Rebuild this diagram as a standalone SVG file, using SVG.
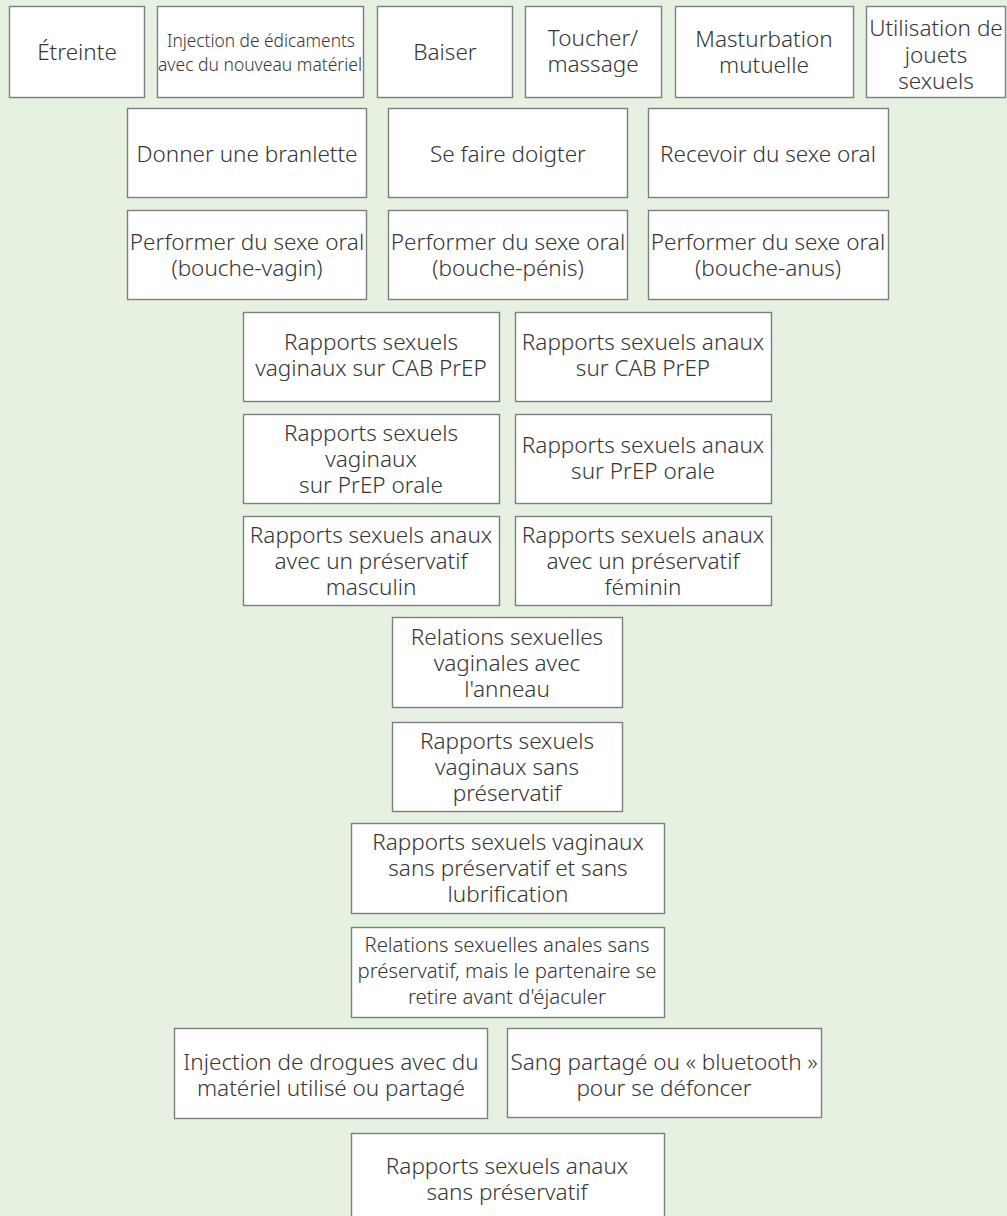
<svg xmlns="http://www.w3.org/2000/svg" width="1007" height="1216" viewBox="0 0 1007 1216">
<style>
.bg{fill:#e6f1e1}
.box{fill:#ffffff;stroke:#7a7f7f;stroke-width:1.4}
.t{font-family:"Noto Sans","Liberation Sans",sans-serif;font-size:22.5px;font-weight:300;fill:#363636;text-anchor:middle}
.s{font-size:19.5px}
.c{font-size:18.5px}
</style>
<rect class="bg" x="0" y="0" width="1007" height="1216"/>
<g id="connectors"/>
<g id="n1"><rect class="box" x="9.5" y="6.5" width="135" height="91"/><text class="t" x="77" y="60">Étreinte</text></g>
<g id="n2"><rect class="box" x="157.5" y="6.5" width="206" height="91"/><text class="t c"><tspan x="261" y="47" textLength="188" lengthAdjust="spacingAndGlyphs">Injection de édicaments</tspan><tspan x="260" y="71" textLength="204" lengthAdjust="spacingAndGlyphs">avec du nouveau matériel</tspan></text></g>
<g id="n3"><rect class="box" x="377.5" y="6.5" width="135" height="91"/><text class="t" x="445" y="60">Baiser</text></g>
<g id="n4"><rect class="box" x="525.5" y="6.5" width="136" height="91"/><text class="t"><tspan x="593" y="46">Toucher/</tspan><tspan x="593" y="72">massage</tspan></text></g>
<g id="n5"><rect class="box" x="675.5" y="6.5" width="178" height="91"/><text class="t"><tspan x="764" y="47">Masturbation</tspan><tspan x="764" y="73">mutuelle</tspan></text></g>
<g id="n6"><rect class="box" x="866.5" y="6.5" width="139" height="91"/><text class="t"><tspan x="936" y="36">Utilisation de</tspan><tspan x="936" y="62.5">jouets</tspan><tspan x="936" y="89">sexuels</tspan></text></g>
<g id="n7"><rect class="box" x="127.5" y="108.5" width="239" height="89"/><text class="t" x="247" y="162">Donner une branlette</text></g>
<g id="n8"><rect class="box" x="388.5" y="108.5" width="239" height="89"/><text class="t" x="508" y="162">Se faire doigter</text></g>
<g id="n9"><rect class="box" x="648.5" y="108.5" width="240" height="89"/><text class="t" x="768" y="162">Recevoir du sexe oral</text></g>
<g id="n10"><rect class="box" x="127.5" y="210.5" width="239" height="89"/><text class="t"><tspan x="247" y="250">Performer du sexe oral</tspan><tspan x="247" y="276">(bouche-vagin)</tspan></text></g>
<g id="n11"><rect class="box" x="388.5" y="210.5" width="239" height="89"/><text class="t"><tspan x="508" y="250">Performer du sexe oral</tspan><tspan x="508" y="276">(bouche-pénis)</tspan></text></g>
<g id="n12"><rect class="box" x="648.5" y="210.5" width="240" height="89"/><text class="t"><tspan x="768" y="250">Performer du sexe oral</tspan><tspan x="768" y="276">(bouche-anus)</tspan></text></g>
<g id="n13"><rect class="box" x="243.5" y="312.5" width="256" height="89"/><text class="t"><tspan x="371" y="350">Rapports sexuels</tspan><tspan x="371" y="376">vaginaux sur CAB PrEP</tspan></text></g>
<g id="n14"><rect class="box" x="515.5" y="312.5" width="256" height="89"/><text class="t"><tspan x="643" y="350">Rapports sexuels anaux</tspan><tspan x="643" y="376">sur CAB PrEP</tspan></text></g>
<g id="n15"><rect class="box" x="243.5" y="414.5" width="256" height="89"/><text class="t"><tspan x="371" y="441">Rapports sexuels</tspan><tspan x="371" y="467">vaginaux</tspan><tspan x="371" y="493">sur PrEP orale</tspan></text></g>
<g id="n16"><rect class="box" x="515.5" y="414.5" width="256" height="89"/><text class="t"><tspan x="643" y="453">Rapports sexuels anaux</tspan><tspan x="643" y="479">sur PrEP orale</tspan></text></g>
<g id="n17"><rect class="box" x="243.5" y="516.5" width="256" height="89"/><text class="t"><tspan x="371" y="543">Rapports sexuels anaux</tspan><tspan x="371" y="569">avec un préservatif</tspan><tspan x="371" y="595">masculin</tspan></text></g>
<g id="n18"><rect class="box" x="515.5" y="516.5" width="256" height="89"/><text class="t"><tspan x="643" y="543">Rapports sexuels anaux</tspan><tspan x="643" y="569">avec un préservatif</tspan><tspan x="643" y="595">féminin</tspan></text></g>
<g id="n19"><rect class="box" x="392.5" y="617.5" width="230" height="90"/><text class="t"><tspan x="507" y="645">Relations sexuelles</tspan><tspan x="507" y="671">vaginales avec</tspan><tspan x="507" y="697">l'anneau</tspan></text></g>
<g id="n20"><rect class="box" x="392.5" y="722.5" width="230" height="89"/><text class="t"><tspan x="507" y="749">Rapports sexuels</tspan><tspan x="507" y="775">vaginaux sans</tspan><tspan x="507" y="801">préservatif</tspan></text></g>
<g id="n21"><rect class="box" x="351.5" y="823.5" width="313" height="90"/><text class="t"><tspan x="508" y="850">Rapports sexuels vaginaux</tspan><tspan x="508" y="876">sans préservatif et sans</tspan><tspan x="508" y="902">lubrification</tspan></text></g>
<g id="n22"><rect class="box" x="351.5" y="927.5" width="313" height="90"/><text class="t s"><tspan x="507" y="952" textLength="285" lengthAdjust="spacingAndGlyphs">Relations sexuelles anales sans</tspan><tspan x="507" y="978" textLength="299" lengthAdjust="spacingAndGlyphs">préservatif, mais le partenaire se</tspan><tspan x="507" y="1004" textLength="198" lengthAdjust="spacingAndGlyphs">retire avant d'éjaculer</tspan></text></g>
<g id="n23"><rect class="box" x="174.5" y="1028.5" width="313" height="90"/><text class="t"><tspan x="331" y="1070">Injection de drogues avec du</tspan><tspan x="331" y="1096">matériel utilisé ou partagé</tspan></text></g>
<g id="n24"><rect class="box" x="507.5" y="1028.5" width="314" height="89"/><text class="t"><tspan x="664" y="1070">Sang partagé ou « bluetooth »</tspan><tspan x="664" y="1096">pour se défoncer</tspan></text></g>
<g id="n25"><rect class="box" x="351.5" y="1133.5" width="313" height="100"/><text class="t"><tspan x="507" y="1174">Rapports sexuels anaux</tspan><tspan x="507" y="1200">sans préservatif</tspan></text></g>
</svg>
